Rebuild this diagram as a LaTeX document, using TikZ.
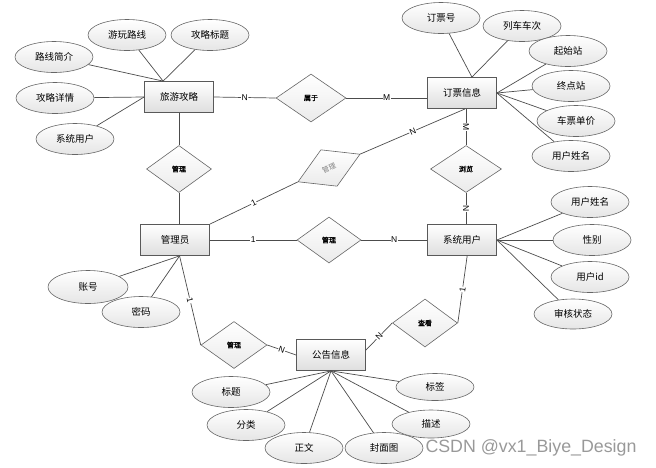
\documentclass[tikz,border=0pt]{standalone}
\usepackage{fontspec}
\setmainfont{Liberation Sans}
\newfontfamily\cjk{Noto Sans CJK SC}
\newfontfamily\cjkb[FakeBold=1.5]{Noto Sans CJK SC}
\usepackage{tikz}
\usetikzlibrary{shapes.geometric,calc}

\begin{document}
\begin{tikzpicture}[x=1pt,y=-1pt,
  ent/.style={draw=black!65,line width=0.8pt,rectangle,minimum width=69pt,minimum height=31pt,top color=white,bottom color=black!13,font=\cjk\fontsize{9.5}{11}\selectfont},
  attr/.style={draw=black!60,line width=0.6pt,ellipse,inner sep=0pt,minimum width=78pt,minimum height=31pt,top color=white,bottom color=black!10,font=\cjk\fontsize{9.5}{11}\selectfont},
  rel/.style={draw=black!60,line width=0.6pt,diamond,inner sep=0pt,minimum width=66pt,minimum height=47pt,top color=white,bottom color=black!8,font=\cjkb\fontsize{7}{8}\selectfont},
  ln/.style={draw=black!70,line width=0.7pt},
  lbl/.style={fill=white,inner sep=0.5pt,sloped,font=\fontsize{8.5}{9}\selectfont}]
\useasboundingbox (0,0) rectangle (656,467);

% entities
\node[ent] (lyg) at (179,97) {旅游攻略};
\node[ent] (dpxx) at (462,93) {订票信息};
\node[ent] (gly) at (175,240) {管理员};
\node[ent] (xtyh) at (462,240) {系统用户};
\node[ent] (ggxx) at (331,355) {公告信息};

% relations
\node[rel,minimum width=70pt,minimum height=48pt] (sy) at (311,98) {属于};
\node[rel,minimum width=65pt] (gl1) at (179,169) {管理};
\node[rel,rotate=24,minimum width=68pt,minimum height=40pt,text=black!50,font=\cjk\fontsize{7}{8}\selectfont] (gl2) at (329,168) {管理};
\node[rel,minimum width=64pt,minimum height=46pt] (gl3) at (329,240) {管理};
\node[rel,minimum width=71pt] (ll) at (466,169) {浏览};
\node[rel] (gl4) at (234,345) {管理};
\node[rel,minimum width=65pt,minimum height=48pt] (ck) at (425,323) {查看};

% attributes of 旅游攻略
\node[attr] (a1) at (127,35) {游玩路线};
\node[attr] (a2) at (210,35) {攻略标题};
\node[attr] (a3) at (54,57) {路线简介};
\node[attr] (a4) at (55,98) {攻略详情};
\node[attr] (a5) at (75,139) {系统用户};
\foreach \n in {a1,a2,a3} \draw[ln] (\n) -- (lyg.135);
\foreach \n in {a4,a5} \draw[ln] (\n) -- (lyg.west);

% attributes of 订票信息
\node[attr] (b1) at (441,18) {订票号};
\node[attr] (b2) at (522,26) {列车车次};
\node[attr] (b3) at (568,51) {起始站};
\node[attr] (b4) at (571,86) {终点站};
\node[attr] (b5) at (576,121) {车票单价};
\node[attr] (b6) at (571,156) {用户姓名};
\foreach \n in {b1,b2} \draw[ln] (\n) -- (dpxx.58);
\foreach \n in {b3,b4,b5,b6} \draw[ln] (\n) -- (dpxx.east);

% attributes of 系统用户
\node[attr] (c1) at (590,202) {用户姓名};
\node[attr] (c2) at (592,240) {性别};
\node[attr] (c3) at (590,277) {用户id};
\node[attr,minimum height=30pt] (c4) at (573,314) {审核状态};
\foreach \n in {c1,c2,c3,c4} \draw[ln] (\n) -- (xtyh.east);

% attributes of 管理员
\node[attr,minimum width=80pt,minimum height=33pt] (d1) at (88,287) {账号};
\node[attr] (d2) at (141,312) {密码};
\foreach \n in {d1,d2} \draw[ln] (\n) -- (gly.-74);

% attributes of 公告信息
\node[attr] (e1) at (231,392) {标题};
\node[attr] (e2) at (246,425) {分类};
\node[attr] (e3) at (304,448) {正文};
\node[attr] (e4) at (384,448) {封面图};
\node[attr,minimum height=28pt] (e5) at (431,424) {描述};
\node[attr,minimum height=27pt] (e6) at (435,387) {标签};
\foreach \n in {e1,e2,e3,e4,e5,e6} \draw[ln] (\n) -- (ggxx.south);

% relationships
\draw[ln] (lyg.east) -- (sy.west) node[midway,lbl]{N};
\draw[ln] (sy.east) -- (sy.east -| dpxx.west) node[midway,lbl]{M};
\draw[ln] (gl1.north) -- (gl1.north |- lyg.south);
\draw[ln] (gl1.south) -- (gl1.south |- gly.north);
\draw[ln] (gly.north east) -- (gl2.west) node[midway,lbl]{1};
\draw[ln] (gl2.east) -- (dpxx.-79) node[midway,lbl]{N};
\draw[ln] (gly.east) -- (gl3.west) node[midway,lbl]{1};
\draw[ln] (gl3.east) -- (xtyh.west) node[midway,lbl]{N};
\draw[ln] (ll.north |- dpxx.south) -- (ll.north) node[midway,lbl]{M};
\draw[ln] (ll.south) -- (ll.south |- xtyh.north) node[midway,lbl]{N};
\draw[ln] (gly.-74) -- (gl4.west) node[midway,lbl]{1};
\draw[ln] (gl4.east) -- (ggxx.west) node[midway,lbl]{N};
\draw[ln] (ggxx.8) -- (ck.west) node[midway,lbl]{N};
\draw[ln] (ck.east) -- (xtyh.-72) node[midway,lbl]{1};

% watermark
\node[text=black!40,font=\fontsize{17.8}{19}\selectfont] (wm) at (531,448) {CSDN @vx1\_Biye\_Design};
\end{tikzpicture}
\end{document}
